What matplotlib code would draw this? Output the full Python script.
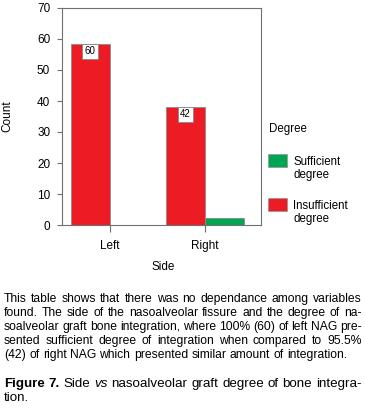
import matplotlib
matplotlib.use("Agg")
import matplotlib.pyplot as plt
from matplotlib.patches import Rectangle
import numpy as np

plt.rcParams['font.family'] = ['Liberation Sans', 'DejaVu Sans']

# data
sides = ['Left', 'Right']
insufficient = [58.3, 38.0]
sufficient = [0.0, 2.2]
bar_labels = ['60', '42']
legend_items = [('Sufficient\ndegree', '#00A651'), ('Insufficient\ndegree', '#ED1C24')]

caption_lines = [
    "This table shows that there was no dependance among variables",
    "found. The side of the nasoalveolar fissure and the degree of na-",
    "soalveolar graft bone integration, where 100% (60) of left NAG pre-",
    "sented sufficient degree of integration when compared to 95.5%",
    "(42) of right NAG which presented similar amount of integration.",
]
figure_line = [("Figure", "bold"), ("7.", "bold"), ("Side", "normal"), ("vs", "italic")] + \
    [(w, "normal") for w in "nasoalveolar graft degree of bone integra-".split()]
figure_line2 = "tion."

W, H = 365, 415
fig = plt.figure(figsize=(W / 100, H / 100), dpi=100)
ax = fig.add_axes([62 / W, 1 - 225 / H, 199 / W, 217 / H])

red = '#ED1C24'
green = '#00A651'
edge = '#8a8a8a'
x = np.arange(len(sides))
w = 0.415
bars_red = ax.bar(x - w / 2, insufficient, w, color=red, edgecolor=edge, linewidth=0.6)
bars_green = ax.bar(x + w / 2, sufficient, w, color=green, edgecolor=edge, linewidth=0.6)

for b, lab in zip(bars_red, bar_labels):
    ax.annotate(lab, (b.get_x() + b.get_width() / 2, b.get_height()),
                xytext=(0, -5.2), textcoords='offset points', ha='center', va='center',
                fontsize=7, bbox=dict(boxstyle='square,pad=0.25', fc='white', ec='#888888', lw=0.6))

ax.set_xlim(-0.505, 1.589)
ax.set_ylim(0, 70)
ax.set_yticks(range(0, 71, 10))
ax.set_xticks(x)
ax.set_xticklabels(sides)
for s in ax.spines.values():
    s.set_color('#707070')
    s.set_linewidth(0.8)
ax.tick_params(axis='y', length=3.5, width=0.8, color='#707070', labelsize=8.5, pad=5)
ax.tick_params(axis='x', length=5, width=0.8, color='#707070', labelsize=8.5, pad=6)
ax.set_ylabel('Count', fontsize=8.5)
ax.yaxis.set_label_coords(-0.245, 0.5)
ax.set_xlabel('Side', fontsize=8.5)
ax.xaxis.set_label_coords(0.51, -0.167)

# legend
fig.text(269 / W, 1 - 132 / H, 'Degree', fontsize=8.3, va='baseline', ha='left')
for i, (lab, col) in enumerate(legend_items):
    top = 154 + i * 44
    fig.patches.append(Rectangle((268 / W, 1 - (top + 13) / H), 18.5 / W, 13 / H,
                                 transform=fig.transFigure, fc=col, ec='#999999', lw=0.6))
    fig.text(293 / W, 1 - (top + 2) / H, lab, fontsize=8.3, va='top', ha='left', linespacing=1.15)

# caption
renderer = fig.canvas.get_renderer()
probe = fig.text(0, 0, caption_lines[0], fontsize=10)
fs = 10 * 350 / probe.get_window_extent(renderer).width
probe.remove()
sp = fig.text(0, 0, "a a", fontsize=fs)
sp2 = fig.text(0, 0, "aa", fontsize=fs)
space = sp.get_window_extent(renderer).width - sp2.get_window_extent(renderer).width
sp.remove()
sp2.remove()


def place_line(words, y_px, size, justify, x0=4, x1=361.5):
    texts = []
    for word, style in words:
        t = fig.text(0, 1 - y_px / H, word, fontsize=size, va='baseline', ha='left',
                     fontweight='bold' if style == 'bold' else 'normal',
                     fontstyle='italic' if style == 'italic' else 'normal')
        texts.append(t)
    widths = [t.get_window_extent(renderer).width for t in texts]
    gap = (x1 - x0 - sum(widths)) / (len(texts) - 1) if justify else space * size / fs
    xp = x0
    for t, wd in zip(texts, widths):
        t.set_x(xp / W)
        xp += wd + gap


baselines = [302, 316, 330, 344, 358]
for i, (line, yb) in enumerate(zip(caption_lines, baselines)):
    place_line([(wd, 'normal') for wd in line.split()], yb, fs, i < len(caption_lines) - 1)
fs2 = fs * 1.1
place_line(figure_line, 387, fs2, True)
place_line([(figure_line2, 'normal')], 401, fs2, False)

fig.savefig('out.png', dpi=100)
